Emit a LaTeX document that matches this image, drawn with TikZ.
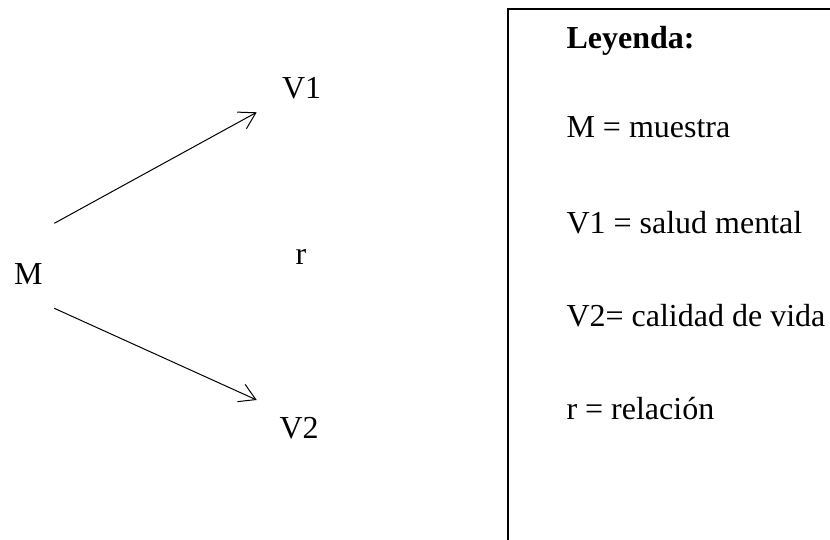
\documentclass[tikz,border=0pt]{standalone}
\usepackage{fontspec}
\setmainfont{Liberation Serif}
\usetikzlibrary{arrows.meta}
\begin{document}
\begin{tikzpicture}[x=1pt,y=-1pt,
  lbl/.style={anchor=base west,inner sep=0pt,outer sep=0pt,font=\fontsize{32}{38}\selectfont},
  conn/.style={line width=1pt,-{Straight Barb[length=16pt,width=19pt,line width=1pt]}},
  legendbox/.style={draw=black,line width=1.6pt}]
\useasboundingbox (0,0) rectangle (830,540);
\clip (0,0) rectangle (830,540);
% legend frame (continues beyond the picture's right and bottom edges)
\draw[legendbox] (508,9) rectangle (900,600);
% left diagram
\node[lbl] (M) at (14,284) {M};
\node[lbl] (V1) at (282,98.5) {V1};
\node[lbl] (r) at (295.5,265) {r};
\node[lbl] (V2) at (279.5,438) {V2};
\coordinate (m1) at (54.3,223.3);
\coordinate (m2) at (54.3,308.3);
\coordinate (t1) at (256.7,112.3);
\coordinate (t2) at (256.7,400);
\draw[conn] (m1) -- (t1);
\draw[conn] (m2) -- (t2);
% legend texts
\node[lbl,font=\fontsize{32}{38}\selectfont\bfseries] (ley) at (566.5,49) {Leyenda:};
\node[lbl] (lm) at (566.5,138) {M = muestra};
\node[lbl] (lv1) at (566.5,234) {V1 = salud mental};
\node[lbl] (lv2) at (566.5,326) {V2= calidad de vida};
\node[lbl] (lr) at (566.5,419) {r = relación};
\end{tikzpicture}
\end{document}
